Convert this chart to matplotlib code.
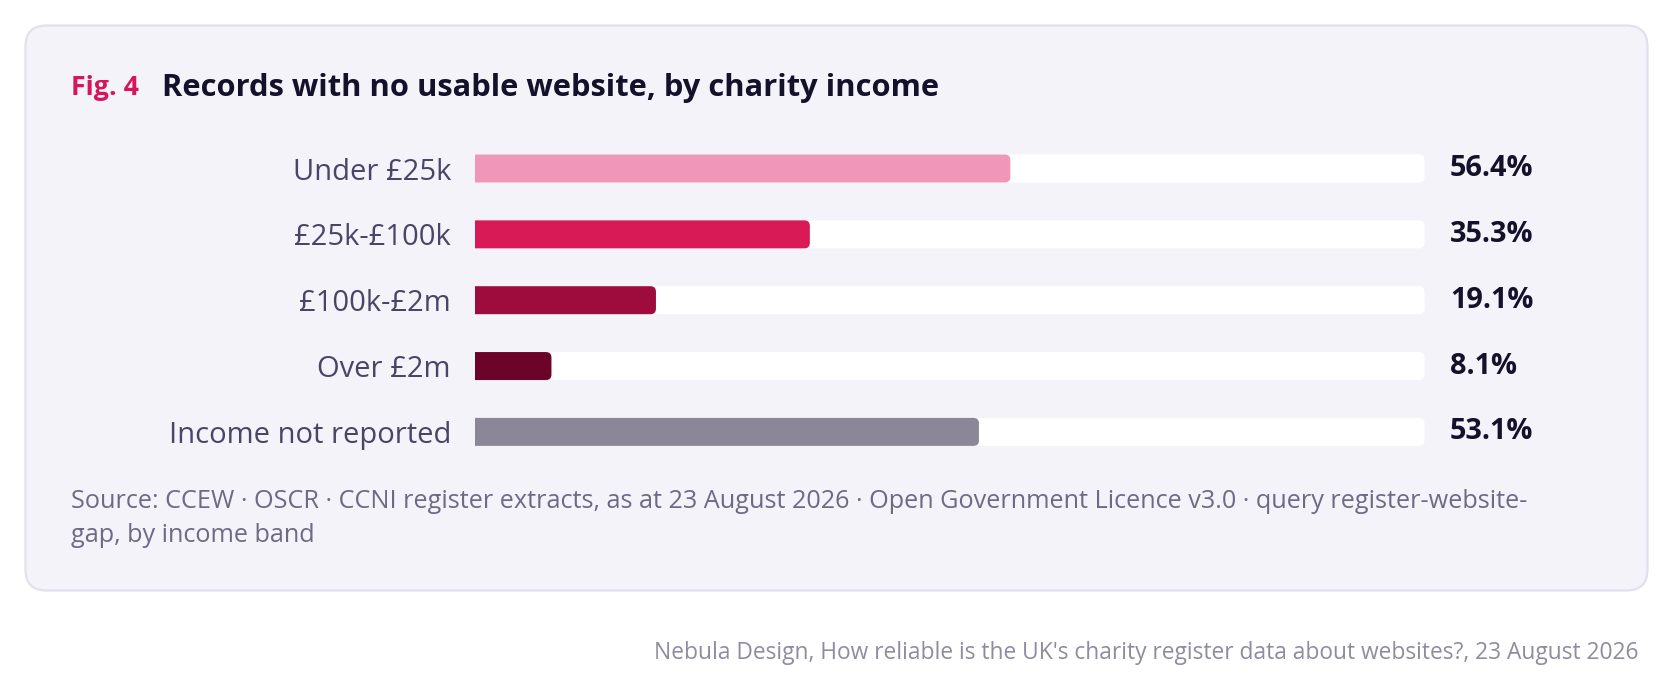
import matplotlib
matplotlib.use('agg')
import matplotlib.pyplot as plt
from matplotlib.patches import FancyBboxPatch

plt.rcParams['font.family'] = ['Open Sans', 'DejaVu Sans']

# data
bands = ['Under £25k', '£25k-£100k', '£100k-£2m', 'Over £2m', 'Income not reported']
pct_no_website = [56.4, 35.3, 19.1, 8.1, 53.1]
bar_colours = ['#f096b9', '#d81b57', '#9e0b3d', '#6b0428', '#8b8796']

W, H = 1672, 691
fig = plt.figure(figsize=(W / 100, H / 100), dpi=100)
fig.patch.set_facecolor('white')

# background axes in pixel units for the card and texts
bg = fig.add_axes([0, 0, 1, 1])
bg.set_xlim(0, W)
bg.set_ylim(H, 0)
bg.axis('off')
card = FancyBboxPatch((25.5, 25.5), 1622, 565,
                      boxstyle='round,pad=0,rounding_size=21',
                      facecolor='#f5f3fa', edgecolor='#e3e0ee', linewidth=1.6)
bg.add_patch(card)

bg.text(71, 88, 'Fig. 4', color='#d6155a', fontsize=19.3, fontweight='bold',
        va='center', ha='left')
bg.text(162, 88, 'Records with no usable website, by charity income',
        color='#14112b', fontsize=22.2, fontweight='bold', va='center', ha='left')

bg.text(71, 501, 'Source: CCEW · OSCR · CCNI register extracts, as at 23 August 2026 · '
        'Open Government Licence v3.0 · query register-website-',
        color='#6e6a85', fontsize=18.2, va='center', ha='left')
bg.text(71, 536, 'gap, by income band', color='#6e6a85', fontsize=18.2,
        va='center', ha='left')

bg.text(1639, 653, "Nebula Design, How reliable is the UK's charity register data about websites?, 23 August 2026",
        color='#8f8ca0', fontsize=16.4, va='center', ha='right')

# bar axes
left_px, right_px = 474.5, 1424.5
row_gap = 65.85
top_px = 168.5 - row_gap / 2
ax_h = row_gap * len(bands)
ax = fig.add_axes([left_px / W, 1 - (top_px + ax_h) / H,
                   (right_px - left_px) / W, ax_h / H])
ax.set_xlim(0, 100)
ax.set_ylim(len(bands) - 0.5, -0.5)
ax.set_facecolor('none')
for s in ax.spines.values():
    s.set_visible(False)
ax.set_xticks([])
ax.set_yticks(range(len(bands)))
ax.set_yticklabels(bands, fontsize=21, color='#4a4566')
ax.tick_params(axis='y', length=0, pad=17)

bar_h = 28 / row_gap
x_per_px = 100 / (right_px - left_px)
y_per_px = 1 / row_gap
aspect = y_per_px / x_per_px
r = 5.5 * x_per_px


def rounded_bar(ax, width, y, colour, z):
    # starts left of the axes so the clip gives a square left end
    ax.add_patch(FancyBboxPatch((-3 * r, y - bar_h / 2), width + 3 * r, bar_h,
                                boxstyle=f'round,pad=0,rounding_size={r}',
                                mutation_aspect=aspect, facecolor=colour,
                                edgecolor='none', linewidth=0, zorder=z))


for i, (v, c) in enumerate(zip(pct_no_website, bar_colours)):
    rounded_bar(ax, 100, i, 'white', 1)
    rounded_bar(ax, v, i, c, 2)
    ax.annotate(f'{v:.1f}%', xy=(100, i), xytext=(25.5 * 0.72, 0),
                textcoords='offset points', va='center', ha='left',
                fontsize=20.8, fontweight='bold', color='#14112b',
                annotation_clip=False)

fig.savefig('out.png', dpi=100, facecolor='white')
